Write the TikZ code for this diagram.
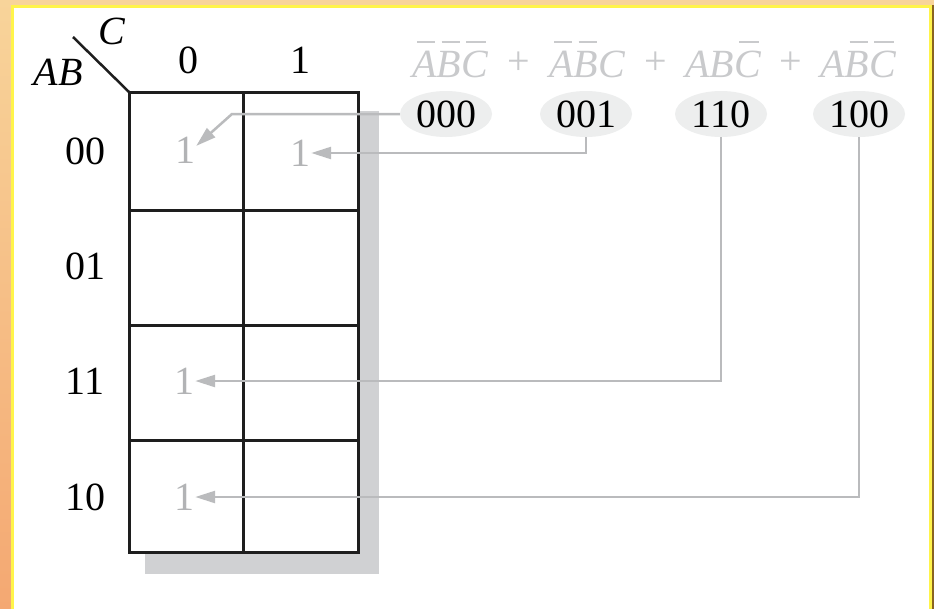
\documentclass[tikz,border=0pt]{standalone}
\usepackage{fontspec}
\setmainfont{Liberation Serif}
\usetikzlibrary{arrows.meta,shapes.geometric}
\newcommand\kmapfont{\fontsize{40}{48}\selectfont}
\newcommand\nb[1]{\setbox0=\hbox{\itshape #1}\rlap{\hskip0.2\wd0\raisebox{\dimexpr\ht0+8pt\relax}{\rule{0.74\wd0}{2pt}}}\box0}
\newcommand\ib[1]{\mbox{\itshape #1}}
\definecolor{gridc}{HTML}{1E1E1E}
\definecolor{shadowc}{HTML}{D0D1D3}
\definecolor{ellc}{HTML}{EDEEEE}
\definecolor{termc}{HTML}{C9CACC}
\definecolor{onec}{HTML}{B2B3B5}
\definecolor{arrc}{HTML}{BABBBD}
\definecolor{bordo}{HTML}{F4A872}
\definecolor{bordt}{HTML}{F8D49A}
\definecolor{bordy}{HTML}{FFF44A}
\definecolor{bordd}{HTML}{8A6420}
\begin{document}
\begin{tikzpicture}[x=1pt,y=-1pt,
  lab/.style={font=\kmapfont, text=black, inner sep=0pt},
  term/.style={font=\kmapfont, text=termc, inner sep=0pt},
  one/.style={font=\kmapfont, text=onec, inner sep=1pt},
  ell/.style={ellipse, fill=ellc, minimum width=92pt, minimum height=46pt, inner sep=0pt, font=\kmapfont, text=black},
  gridline/.style={draw=gridc, line width=3pt},
  arr/.style={draw=arrc, line width=2.5pt, -{Triangle[length=20pt,width=12pt]}}
]
\useasboundingbox (0,0) rectangle (934,608);
% frame
\shade[top color=bordt, bottom color=bordo] (0,0) rectangle (934,608);
\fill[bordy] (11,5) rectangle (932,609);
\fill[bordd] (932,5) rectangle (934,609);
\fill[white] (14,8) rectangle (929,609);
% shadow
\fill[shadowc] (145,111) rectangle (379,574);
% grid
\fill[white] (129,92) rectangle (358,552);
\draw[gridline] (129,92) rectangle (358,552);
\draw[gridline] (243,92) -- (243,552);
\draw[gridline] (129,210) -- (358,210);
\draw[gridline] (129,325) -- (358,325);
\draw[gridline] (129,440) -- (358,440);
\coordinate (corner) at (129,92);
\coordinate (diag) at (73,37);
\draw[draw=gridc, line width=2.5pt] (diag) -- (corner);
% labels
\node[lab] (lc) at (112,31) {\ib{C}};
\node[lab] (lab) at (58,72) {\ib{AB}};
\node[lab] (col0) at (188,60) {0};
\node[lab] (col1) at (300,60) {1};
\node[lab] (r00) at (85,151) {00};
\node[lab] (r01) at (85,266) {01};
\node[lab] (r11) at (85,381) {11};
\node[lab] (r10) at (85,497) {10};
% expression
\node[term] (t1) at (450,59) {\nb{A}\nb{B}\nb{C}};
\node[term] (p1) at (519,63) {+};
\node[term] (t2) at (587,59) {\nb{A}\nb{B}\ib{C}};
\node[term] (p2) at (656,63) {+};
\node[term] (t3) at (723,59) {\ib{AB}\nb{C}};
\node[term] (p3) at (791,63) {+};
\node[term] (t4) at (858,59) {\ib{A}\nb{B}\nb{C}};
% minterm ellipses
\node[ell] (e000) at (446,114) {000};
\node[ell] (e001) at (586,114) {001};
\node[ell] (e110) at (721,114) {110};
\node[ell] (e100) at (859,114) {100};
% ones
\node[one] (c00) at (185,150) {1};
\node[one] (c01) at (300,153) {1};
\node[one] (c11) at (184,381) {1};
\node[one] (c10) at (184,497) {1};
% arrows
\coordinate (b1) at (232,114);
\draw[arr] (e000.west) -- (b1) -- (c00.20);
\draw[arr] (e001.south) |- (c01.east);
\draw[arr] (e110.south) |- (c11.east);
\draw[arr] (e100.south) |- (c10.east);
\end{tikzpicture}
\end{document}
